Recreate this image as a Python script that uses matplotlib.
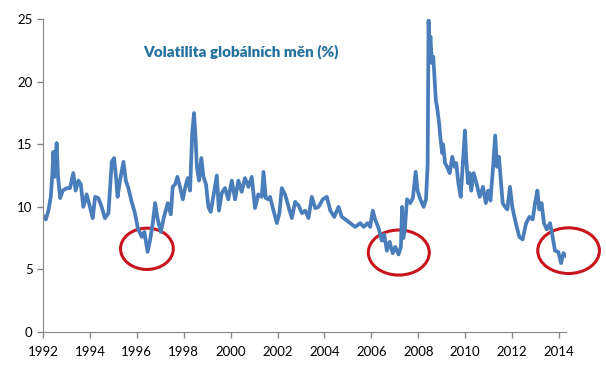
import matplotlib
matplotlib.use("Agg")
import matplotlib.pyplot as plt
from matplotlib.patches import Ellipse

# traced values of the currency volatility series (%)
years = [1992.04, 1992.12, 1992.23, 1992.33, 1992.40, 1992.44, 1992.50, 1992.58, 1992.64, 1992.73,
         1992.84, 1993.01, 1993.15, 1993.29, 1993.39, 1993.51, 1993.61, 1993.72, 1993.86, 1994.00,
         1994.12, 1994.22, 1994.36, 1994.50, 1994.64, 1994.79, 1994.86, 1994.93, 1995.03, 1995.11,
         1995.18, 1995.28, 1995.43, 1995.53, 1995.64, 1995.78, 1995.92, 1996.04, 1996.21, 1996.32,
         1996.46, 1996.56, 1996.68, 1996.78, 1996.88, 1997.02, 1997.16, 1997.32, 1997.45, 1997.53,
         1997.63, 1997.73, 1997.84, 1997.96, 1998.07, 1998.17, 1998.27, 1998.36, 1998.44, 1998.50,
         1998.56, 1998.65, 1998.75, 1998.84, 1998.95, 1999.05, 1999.15, 1999.26, 1999.41, 1999.50,
         1999.62, 1999.76, 1999.90, 2000.05, 2000.19, 2000.33, 2000.47, 2000.61, 2000.76, 2000.90,
         2001.04, 2001.18, 2001.33, 2001.40, 2001.50, 2001.61, 2001.68, 2001.80, 2001.97, 2002.08,
         2002.18, 2002.32, 2002.47, 2002.61, 2002.75, 2002.90, 2003.04, 2003.18, 2003.32, 2003.46,
         2003.61, 2003.75, 2003.93, 2004.10, 2004.25, 2004.42, 2004.60, 2004.74, 2004.89, 2005.10,
         2005.31, 2005.53, 2005.67, 2005.84, 2005.95, 2006.06, 2006.16, 2006.31, 2006.45, 2006.55,
         2006.66, 2006.78, 2006.91, 2007.02, 2007.16, 2007.26, 2007.31, 2007.36, 2007.42, 2007.52,
         2007.66, 2007.77, 2007.89, 2007.97, 2008.09, 2008.23, 2008.33, 2008.40, 2008.44, 2008.47,
         2008.52, 2008.58, 2008.64, 2008.69, 2008.75, 2008.80, 2008.89, 2008.94, 2009.02, 2009.06,
         2009.14, 2009.23, 2009.34, 2009.45, 2009.55, 2009.62, 2009.71, 2009.81, 2009.91, 2009.99,
         2010.05, 2010.12, 2010.19, 2010.26, 2010.36, 2010.48, 2010.62, 2010.76, 2010.88, 2010.98,
         2011.08, 2011.19, 2011.28, 2011.36, 2011.44, 2011.52, 2011.60, 2011.70, 2011.80, 2011.91,
         2012.01, 2012.10, 2012.20, 2012.31, 2012.45, 2012.60, 2012.74, 2012.88, 2012.98, 2013.08,
         2013.16, 2013.26, 2013.36, 2013.48, 2013.62, 2013.73, 2013.83, 2013.97, 2014.09, 2014.19,
         2014.29]
vol = [9.2, 9.0, 9.7, 10.8, 12.7, 14.4, 12.4, 15.1, 12.4, 10.7,
       11.3, 11.5, 11.5, 12.7, 11.3, 12.1, 11.8, 10.0, 11.0, 10.0,
       9.1, 10.8, 10.7, 10.0, 9.1, 9.5, 11.5, 13.6, 13.9, 12.4,
       10.8, 12.1, 13.6, 12.1, 11.5, 10.4, 9.5, 8.3, 7.6, 8.0,
       6.4, 7.3, 8.7, 10.3, 9.1, 8.0, 9.2, 10.3, 9.4, 11.6,
       11.8, 12.4, 11.6, 10.6, 11.6, 12.3, 11.3, 15.9, 17.5, 15.6,
       13.2, 12.1, 13.9, 12.4, 11.8, 10.0, 9.6, 10.8, 12.5, 9.7,
       11.1, 11.5, 10.6, 12.1, 10.6, 12.1, 11.2, 12.3, 11.6, 12.4,
       9.9, 11.0, 10.8, 12.8, 10.7, 10.6, 10.8, 9.9, 8.7, 9.5,
       11.5, 11.0, 10.0, 9.1, 10.4, 10.1, 9.5, 9.7, 9.1, 10.8,
       9.9, 10.0, 10.6, 10.8, 9.7, 9.2, 10.0, 9.2, 9.0, 8.7,
       8.4, 8.7, 8.4, 8.7, 8.4, 9.7, 9.0, 8.3, 7.3, 7.8,
       6.5, 7.2, 6.3, 6.8, 6.2, 6.8, 10.0, 7.5, 8.0, 10.6,
       10.3, 10.7, 12.8, 11.3, 10.6, 10.0, 10.6, 13.4, 24.9, 22.5,
       23.6, 21.5, 22.0, 20.4, 18.5, 18.0, 16.7, 15.6, 14.3, 15.0,
       13.5, 13.2, 12.7, 14.0, 13.2, 13.5, 11.9, 10.8, 13.7, 16.1,
       13.7, 11.9, 12.7, 11.3, 12.7, 11.9, 10.8, 11.6, 10.3, 11.3,
       10.5, 13.2, 15.7, 13.2, 14.0, 12.2, 10.3, 10.0, 9.8, 11.6,
       10.0, 9.2, 8.4, 7.6, 7.4, 8.7, 9.2, 9.0, 10.3, 11.3,
       9.8, 10.3, 8.7, 8.2, 8.7, 7.6, 6.5, 6.4, 5.5, 6.3,
       6.1]

# highlighted lows: centre (year, value), width (years), height (%)
circle_x = [1996.43, 2007.17, 2014.41]
circle_y = [6.65, 6.35, 6.5]
circle_w = [2.25, 2.6, 2.63]
circle_h = [3.3, 3.6, 3.65]

xticks = list(range(1992, 2015, 2))
yticks = [0, 5, 10, 15, 20, 25]

plt.rcParams['font.family'] = ['Lato', 'DejaVu Sans']

fig = plt.figure(figsize=(6.06, 3.76), dpi=100)
ax = fig.add_axes([0.071, 0.117, 0.863, 0.832])

ax.plot(years, vol, color='#4a7ebb', lw=2.7, solid_joinstyle='round')

for cx, cy, w, h in zip(circle_x, circle_y, circle_w, circle_h):
    ax.add_patch(Ellipse((cx, cy), w, h, fill=False, edgecolor='#c8141c', lw=2.2, clip_on=False))

ax.set_xlim(1992, 2014.3)
ax.set_ylim(0, 25)
ax.set_xticks(xticks)
ax.set_yticks(yticks)
ax.tick_params(labelsize=9.5, colors='#868686', labelcolor='black', length=4, width=1)
ax.tick_params(axis='x', pad=6)
for s in ['top', 'right']:
    ax.spines[s].set_visible(False)
for s in ['left', 'bottom']:
    ax.spines[s].set_color('#868686')

fig.text(0.398, 0.862, 'Volatilita globálních měn (%)', color='#2673a0',
         fontsize=11, fontweight='heavy', ha='center', va='center')

fig.savefig('out.png', dpi=100)
